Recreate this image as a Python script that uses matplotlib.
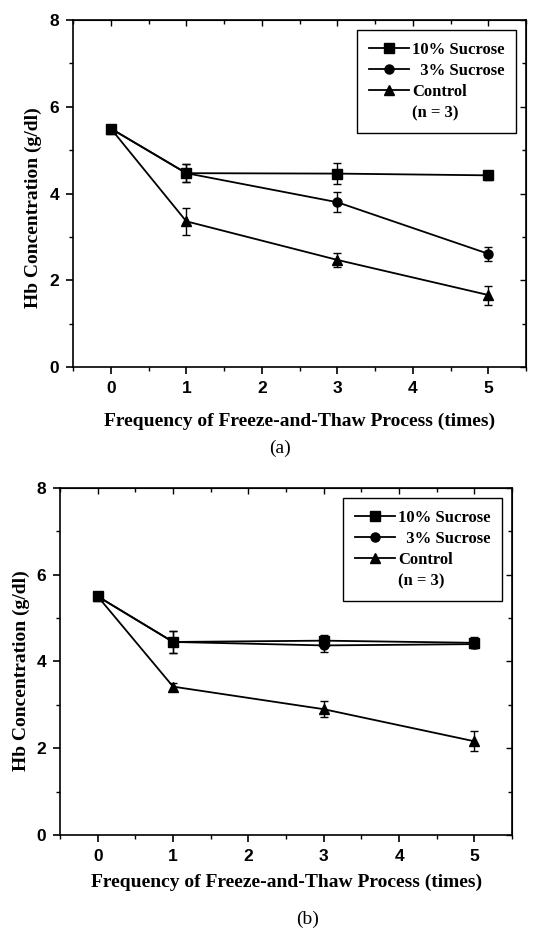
import matplotlib
matplotlib.use("Agg")
import matplotlib.pyplot as plt
from matplotlib.lines import Line2D
from matplotlib.ticker import MultipleLocator

# freeze-thaw cycles
cycles = [0, 1, 3, 5]

# (a) Hb concentration (g/dl), mean and error
a_suc10 = [5.50, 4.47, 4.46, 4.42]
a_suc10_err = [0.05, 0.20, 0.25, 0.10]
a_suc3 = [5.50, 4.47, 3.80, 2.61]
a_suc3_err = [0.05, 0.20, 0.23, 0.16]
a_ctrl = [5.50, 3.36, 2.47, 1.66]
a_ctrl_err = [0.05, 0.31, 0.17, 0.22]

# (b)
b_suc10 = [5.50, 4.45, 4.48, 4.43]
b_suc10_err = [0.05, 0.25, 0.12, 0.13]
b_suc3 = [5.50, 4.45, 4.37, 4.40]
b_suc3_err = [0.05, 0.25, 0.15, 0.10]
b_ctrl = [5.50, 3.42, 2.90, 2.16]
b_ctrl_err = [0.05, 0.08, 0.18, 0.23]

xticks = [0, 1, 2, 3, 4, 5]
yticks = [0, 2, 4, 6, 8]
labels = ["10% Sucrose", "  3% Sucrose", "Control"]
markers = ["s", "o", "^"]

serif = "Liberation Serif"
sans = "Liberation Sans"

fig = plt.figure(figsize=(5.46, 9.38), dpi=100)


def panel(rect, series, errs):
    ax = fig.add_axes(rect)
    for y, e, m in zip(series, errs, markers):
        ax.errorbar(cycles, y, yerr=e, color="black", marker=m, ms=6.5,
                    lw=1.3, elinewidth=1.0, capsize=3, capthick=1.0)
    ax.set_xlim(-0.5, 5.5)
    ax.set_ylim(0, 8)
    ax.set_xticks(xticks)
    ax.set_yticks(yticks)
    ax.xaxis.set_minor_locator(MultipleLocator(0.5))
    ax.yaxis.set_minor_locator(MultipleLocator(1))
    ax.tick_params(which="major", direction="out", length=5, width=1.2, pad=5)
    ax.tick_params(which="minor", direction="out", length=3, width=1.0)
    for lab in ax.get_xticklabels() + ax.get_yticklabels():
        lab.set_fontfamily(sans)
        lab.set_fontweight("bold")
        lab.set_fontsize(12.5)
    for s in ax.spines.values():
        s.set_linewidth(1.2)

    top = ax.secondary_xaxis("top")
    top.set_xticks(xticks)
    top.xaxis.set_minor_locator(MultipleLocator(0.5))
    top.tick_params(which="both", direction="in", labeltop=False, width=1.0)
    top.tick_params(which="major", length=4)
    top.tick_params(which="minor", length=3)
    right = ax.secondary_yaxis("right")
    right.set_yticks(yticks)
    right.yaxis.set_minor_locator(MultipleLocator(1))
    right.tick_params(which="both", direction="in", labelright=False, width=1.0)
    right.tick_params(which="major", length=4)
    right.tick_params(which="minor", length=3)

    handles = [Line2D([], [], color="black", marker=m, ms=6.5, lw=1.3)
               for m in markers]
    handles.append(Line2D([], [], color="none"))
    leg = ax.legend(handles, labels + ["(n = 3)"], loc="upper right",
                    bbox_to_anchor=(0.978, 0.97), borderaxespad=0,
                    fancybox=False, edgecolor="black", framealpha=1,
                    handlelength=2.4, handletextpad=0.2, labelspacing=0.3,
                    borderpad=0.7,
                    prop={"family": serif, "weight": "bold", "size": 12})
    leg.get_frame().set_linewidth(1.0)
    return ax


panel([0.1337, 0.6087, 0.830, 0.3699], [a_suc10, a_suc3, a_ctrl],
      [a_suc10_err, a_suc3_err, a_ctrl_err])
panel([0.110, 0.1098, 0.828, 0.370], [b_suc10, b_suc3, b_ctrl],
      [b_suc10_err, b_suc3_err, b_ctrl_err])

lab = dict(family=serif, weight="bold", size=14, ha="center", va="center")
fig.text(33 / 546, 1 - 208 / 938, "Hb Concentration (g/dl)", rotation=90, **lab)
fig.text(300 / 546, 1 - 421 / 938, "Frequency of Freeze-and-Thaw Process (times)", **lab)
fig.text(280 / 546, 1 - 448 / 938, "(a)", family=serif, size=14, ha="center", va="center")

fig.text(21 / 546, 1 - 671 / 938, "Hb Concentration (g/dl)", rotation=90, **lab)
fig.text(287 / 546, 1 - 882 / 938, "Frequency of Freeze-and-Thaw Process (times)", **lab)
fig.text(308 / 546, 1 - 919 / 938, "(b)", family=serif, size=14, ha="center", va="center")

fig.savefig("out.png", dpi=100)
